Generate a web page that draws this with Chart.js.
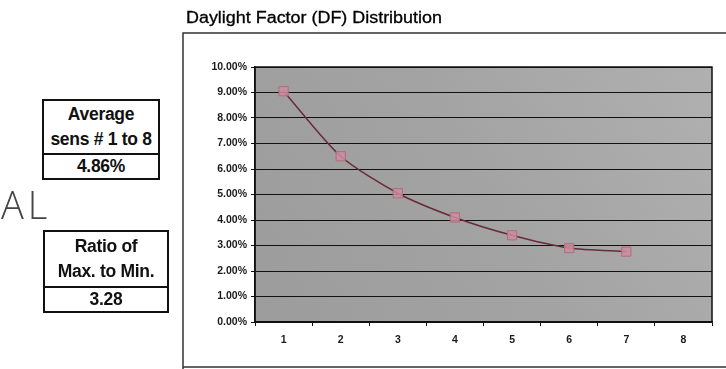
<!DOCTYPE html>
<html>
<head>
<meta charset="utf-8">
<script src="https://cdn.jsdelivr.net/npm/chart.js@4/dist/chart.umd.min.js"></script>
<style>
  body { margin: 0; background: #fff; font-family: "Liberation Sans", Arial, sans-serif; }
  #wrap { position: relative; width: 726px; height: 369px; overflow: hidden; }
  #chart { position: absolute; left: 0; top: 0; }
  .title { position: absolute; left: 186px; top: 9px; font-size: 16px; color: #000; transform: scaleX(1.12); transform-origin: left top; -webkit-text-stroke: 0.3px #000; }
  .box { position: absolute; border: 2px solid #111; text-align: center; font-weight: bold; font-size: 17.5px; color: #111; background: #fff; letter-spacing: -0.3px; white-space: nowrap; }
  .box .ln { line-height: 25px; }
  .box .val { border-top: 2px solid #111; line-height: 23px; font-size: 17.5px; }
  .al { position: absolute; left: 1px; top: 178px; font-family: "Open Sans", Lato, sans-serif; font-weight: 300; font-size: 38px; color: #444; letter-spacing: 4px; }
</style>
</head>
<body>
<div id="wrap">
  <canvas id="chart" width="726" height="369"></canvas>
  <div class="title">Daylight Factor (DF) Distribution</div>
  <div class="box" style="left:42px;top:99px;width:114px;">
    <div style="padding:1px 0 1px">
      <div class="ln">Average</div>
      <div class="ln">sens # 1 to 8</div>
    </div>
    <div class="val">4.86%</div>
  </div>
  <div class="al">AL</div>
  <div class="box" style="left:43px;top:230px;width:122px;">
    <div style="padding:2px 0 2px">
      <div class="ln">Ratio of</div>
      <div class="ln">Max. to Min.</div>
    </div>
    <div class="val">3.28</div>
  </div>
</div>
<script>
// Sensor numbers and daylight factor values (%)
const sensors = ['1', '2', '3', '4', '5', '6', '7', '8'];
const dfValues = [9.05, 6.5, 5.05, 4.1, 3.4, 2.9, 2.76, null];
const yTicks = [0, 1, 2, 3, 4, 5, 6, 7, 8, 9, 10];

// Plot background and outer frame
const framePlugin = {
    id: 'frame',
    beforeDraw(chart) {
        const { ctx, chartArea: a } = chart;
        ctx.save();
        let g = ctx.createLinearGradient(a.left, a.bottom, a.right, a.top);
        g.addColorStop(0, '#9c9c9c');
        g.addColorStop(0.5, '#a3a3a3');
        g.addColorStop(1, '#b0b0b0');
        ctx.fillStyle = g;
        ctx.fillRect(a.left, a.top, a.right - a.left, a.bottom - a.top);
        // chart frame
        ctx.strokeStyle = '#333';
        ctx.lineWidth = 1.5;
        ctx.beginPath();
        ctx.moveTo(726, 33);
        ctx.lineTo(183, 33);
        ctx.lineTo(183, 369);
        ctx.moveTo(183, 367);
        ctx.lineTo(726, 367);
        ctx.stroke();
        ctx.restore();
    },
    afterDatasetsDraw(chart) {
        const { ctx, chartArea: a } = chart;
        ctx.save();
        ctx.strokeStyle = '#111';
        ctx.lineWidth = 1.5;
        ctx.strokeRect(a.left, a.top, a.right - a.left, a.bottom - a.top);
        ctx.restore();
    }
};

new Chart(document.getElementById('chart'), {
    type: 'line',
    data: {
        labels: sensors,
        datasets: [{
            label: 'DF',
            data: dfValues,
            borderColor: '#6b2a3c',
            borderWidth: 1.5,
            tension: 0.25,
            pointStyle: 'rect',
            pointRadius: 6.5,
            pointBackgroundColor: 'rgba(205,140,160,0.85)',
            pointBorderColor: '#b06c7e',
            pointBorderWidth: 1
        }]
    },
    options: {
        responsive: false,
        animation: false,
        layout: { padding: { left: 185, top: 67, right: 14, bottom: 17 } },
        plugins: {
            legend: { display: false },
            tooltip: { enabled: false }
        },
        scales: {
            y: {
                min: 0,
                max: 10,
                afterFit: (s) => { s.width = 70; },
                afterBuildTicks: (s) => { s.ticks = yTicks.map(v => ({ value: v })); },
                border: { color: '#111', width: 1.5 },
                grid: { color: '#111', lineWidth: 1, tickLength: 4 },
                ticks: {
                    color: '#1a1a1a',
                    padding: 4,
                    font: { family: 'Liberation Sans', size: 10.5, weight: 'bold' },
                    callback: (v) => v.toFixed(2) + '%'
                }
            },
            x: {
                offset: true,
                afterFit: (s) => { s.height = 30; },
                border: { color: '#111', width: 1.5 },
                grid: { offset: true, drawOnChartArea: false, color: '#111', tickLength: 4 },
                ticks: {
                    color: '#1a1a1a',
                    padding: 8,
                    font: { family: 'Liberation Sans', size: 10.5, weight: 'bold' }
                }
            }
        }
    },
    plugins: [framePlugin]
});
</script>
</body>
</html>
